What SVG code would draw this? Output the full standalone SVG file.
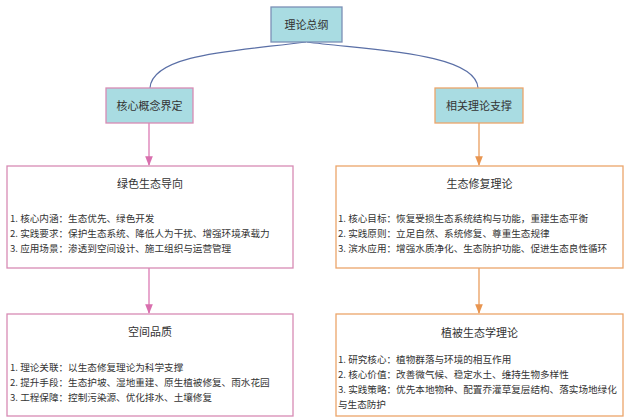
<svg xmlns="http://www.w3.org/2000/svg" width="626" height="418" viewBox="0 0 626 418">
<defs>
<style>
text{font-family:"Noto Sans CJK SC","Noto Sans",sans-serif;fill:#333;}
.lbl{font-size:11px;text-anchor:middle;}
.body{font-size:9.6px;}
.head{fill:#a9dce2;stroke-width:1.3;}
.box{fill:#fff;stroke-width:1.3;}
.pk{stroke:#d78bb4;}
.or{stroke:#eba56a;}
.bl{stroke:#7b90b6;}
.conn path{fill:none;stroke-width:1.2;}
</style>
<marker id="ap" viewBox="0 0 10 10" refX="9" refY="5" markerWidth="8" markerHeight="8" orient="auto"><path d="M0,1 L10,5 L0,9 z" fill="#d96fae"/></marker>
<marker id="ao" viewBox="0 0 10 10" refX="9" refY="5" markerWidth="8" markerHeight="8" orient="auto"><path d="M0,1 L10,5 L0,9 z" fill="#e89550"/></marker>
</defs>
<rect width="626" height="418" fill="#fff"/>
<g class="conn">
<path d="M306,42 C250,50 152,52 150,88" stroke="#5a6fa6"/>
<path d="M307,42 C365,50 476,52 478,88" stroke="#5a6fa6"/>
<path d="M149,123 L149,165" stroke="#d96fae" marker-end="url(#ap)"/>
<path d="M479,123 L479,165" stroke="#e89550" marker-end="url(#ao)"/>
<path d="M149,268 L149,313" stroke="#d96fae" marker-end="url(#ap)"/>
<path d="M479,268 L479,313" stroke="#e89550" marker-end="url(#ao)"/>
</g>
<g id="root">
<rect x="271" y="7" width="71" height="35" class="head bl"/>
<text x="306.5" y="28.5" class="lbl">理论总纲</text>
</g>
<g id="core">
<rect x="106" y="88" width="87" height="35" class="head pk"/>
<text x="149.5" y="109.5" class="lbl">核心概念界定</text>
</g>
<g id="related">
<rect x="435" y="88" width="88" height="35" class="head or"/>
<text x="479" y="109.5" class="lbl">相关理论支撑</text>
</g>
<g id="green">
<rect x="7" y="166" width="286" height="102" class="box pk"/>
<text x="150" y="188" class="lbl">绿色生态导向</text>
<text x="10" y="222" class="body">1. 核心内涵：生态优先、绿色开发</text>
<text x="10" y="237" class="body">2. 实践要求：保护生态系统、降低人为干扰、增强环境承载力</text>
<text x="10" y="252" class="body">3. 应用场景：渗透到空间设计、施工组织与运营管理</text>
</g>
<g id="restore">
<rect x="336" y="166" width="287" height="102" class="box or"/>
<text x="479.5" y="188" class="lbl">生态修复理论</text>
<text x="338" y="222" class="body">1. 核心目标：恢复受损生态系统结构与功能，重建生态平衡</text>
<text x="338" y="237" class="body">2. 实践原则：立足自然、系统修复、尊重生态规律</text>
<text x="338" y="252" class="body">3. 滨水应用：增强水质净化、生态防护功能、促进生态良性循环</text>
</g>
<g id="space">
<rect x="7" y="314" width="286" height="102" class="box pk"/>
<text x="150" y="336" class="lbl">空间品质</text>
<text x="10" y="371" class="body">1. 理论关联：以生态修复理论为科学支撑</text>
<text x="10" y="386" class="body">2. 提升手段：生态护坡、湿地重建、原生植被修复、雨水花园</text>
<text x="10" y="401" class="body">3. 工程保障：控制污染源、优化排水、土壤修复</text>
</g>
<g id="veg">
<rect x="336" y="314" width="287" height="102" class="box or"/>
<text x="479.5" y="337" class="lbl">植被生态学理论</text>
<text x="338" y="363" class="body">1. 研究核心：植物群落与环境的相互作用</text>
<text x="338" y="378" class="body">2. 核心价值：改善微气候、稳定水土、维持生物多样性</text>
<text x="338" y="393" class="body">3. 实践策略：优先本地物种、配置乔灌草复层结构、落实场地绿化</text>
<text x="338" y="408" class="body">与生态防护</text>
</g>
</svg>
